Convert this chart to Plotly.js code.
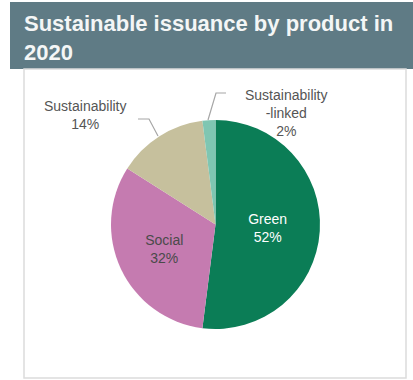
<!DOCTYPE html>
<html>
<head>
<meta charset="utf-8">
<script src="https://cdn.plot.ly/plotly-3.0.1.min.js"></script>
<style>
html,body{margin:0;padding:0;background:#fff;}
#chart{width:413px;height:380px;}
</style>
</head>
<body>
<div id="chart"></div>
<script>
const categories = ['Green', 'Social', 'Sustainability', 'Sustainability-linked'];
const displayNames = ['Green', 'Social', 'Sustainability', 'Sustainability<br>-linked'];
const shares = [52, 32, 14, 2];
const sliceColors = ['#0b7d56', '#c57bb0', '#c6c09d', '#7fc6b2'];
const chartTitle = 'Sustainable issuance by product in<br>2020';

const W = 413, H = 380;
const px = x => x / W;
const py = y => 1 - y / H;

const total = shares.reduce((a, b) => a + b, 0);
const pctText = shares.map(v => Math.round(v / total * 100) + '%');
const sliceText = displayNames.map((n, i) => i < 2 ? n + '<br>' + pctText[i] : '');

const trace = {
  type: 'pie',
  labels: categories,
  values: shares,
  sort: false,
  direction: 'clockwise',
  rotation: 0,
  marker: {colors: sliceColors, line: {width: 0}},
  text: sliceText,
  textinfo: 'text',
  textposition: 'inside',
  insidetextorientation: 'horizontal',
  textfont: {family: 'Liberation Sans, Arial, sans-serif', size: 14, color: ['#ffffff', '#4a4a4a', '#4a4a4a', '#4a4a4a']},
  hoverinfo: 'label+percent',
  domain: {x: [px(110), px(321)], y: [py(329), py(120)]},
  showlegend: false
};

const labelFont = {family: 'Liberation Sans, Arial, sans-serif', size: 14, color: '#555555'};

const layout = {
  width: W, height: H,
  margin: {l: 0, r: 0, t: 0, b: 0},
  paper_bgcolor: '#ffffff',
  showlegend: false,
  shapes: [
    {type: 'rect', xref: 'paper', yref: 'paper', x0: px(10), x1: px(413), y0: py(69), y1: py(2),
      fillcolor: '#5f7b85', line: {width: 0}, layer: 'below'},
    {type: 'rect', xref: 'paper', yref: 'paper', x0: px(24), x1: px(406), y0: py(378), y1: py(69),
      fillcolor: 'rgba(0,0,0,0)', line: {color: '#dcdcdc', width: 1.5}, layer: 'below'},
    {type: 'path', xref: 'paper', yref: 'paper',
      path: 'M' + px(138) + ',' + py(119) + ' L' + px(149) + ',' + py(119) + ' L' + px(158) + ',' + py(136),
      line: {color: '#a6a6a6', width: 1.2}},
    {type: 'path', xref: 'paper', yref: 'paper',
      path: 'M' + px(226) + ',' + py(93) + ' L' + px(216) + ',' + py(93) + ' L' + px(208) + ',' + py(120),
      line: {color: '#a6a6a6', width: 1.2}}
  ],
  annotations: [
    {xref: 'paper', yref: 'paper', x: px(22), y: py(9), xanchor: 'left', yanchor: 'top', align: 'left',
      text: '<b>' + chartTitle + '</b>', showarrow: false,
      font: {family: 'Liberation Sans, Arial, sans-serif', size: 22, color: '#f4f6f6'}},
    {xref: 'paper', yref: 'paper', x: px(85), y: py(115), xanchor: 'center', yanchor: 'middle',
      text: displayNames[2] + '<br>' + pctText[2], showarrow: false, font: labelFont},
    {xref: 'paper', yref: 'paper', x: px(286), y: py(113), xanchor: 'center', yanchor: 'middle',
      text: displayNames[3] + '<br>' + pctText[3], showarrow: false, font: labelFont}
  ]
};

Plotly.newPlot('chart', [trace], layout, {displayModeBar: false, staticPlot: true});
</script>
</body>
</html>
